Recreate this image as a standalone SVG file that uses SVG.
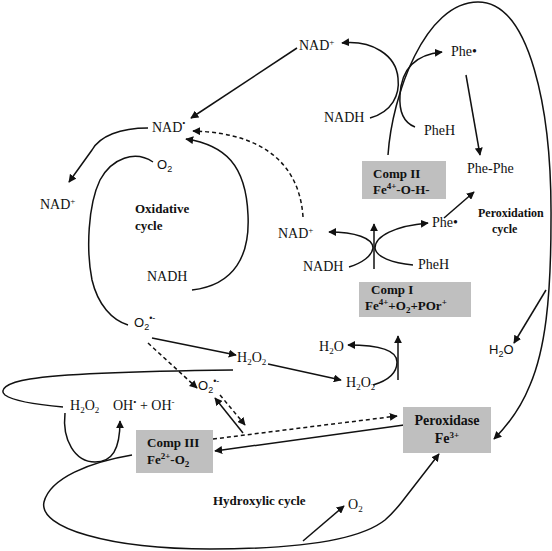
<svg xmlns="http://www.w3.org/2000/svg" width="552" height="551" viewBox="0 0 552 551">
<defs>
<marker id="ah" viewBox="0 0 10 10" refX="9" refY="5" markerWidth="8" markerHeight="8" markerUnits="userSpaceOnUse" orient="auto">
<path d="M0,0 L10,5 L0,10 z" fill="#111"/>
</marker>
</defs>
<style>
.t{font-family:"Liberation Serif","Times New Roman",serif;font-size:14px;fill:#111}
.a{font-family:"Liberation Sans",Arial,sans-serif;font-size:13px;fill:#111}
.b{font-family:"Liberation Serif","Times New Roman",serif;font-size:13px;font-weight:bold;fill:#111}
.bs{font-family:"Liberation Serif","Times New Roman",serif;font-size:12px;font-weight:bold;fill:#111}
.s{font-size:9px}
.box{fill:#bfbfbf}
.ln{fill:none;stroke:#111;stroke-width:1.5}
.ar{fill:none;stroke:#111;stroke-width:1.5;marker-end:url(#ah)}
.dr{fill:none;stroke:#111;stroke-width:1.5;stroke-dasharray:4,3;marker-end:url(#ah)}
</style>
<rect width="552" height="551" fill="#fff"/>
<g id="connectors">
<path class="ar" d="M297,48 L191,118"/>
<path class="ar" d="M148,128 C120,128 100,136 92,150 L69,182"/>
<path class="dr" d="M303,217 C300,170 270,133 193,131"/>
<path class="ar" d="M192,290 C235,285 250,255 248,215 C246,165 225,145 186,139"/>
<path class="ln" d="M153,162 C135,150 112,158 100,180 C88,205 86,250 92,280 C98,305 112,320 128,325"/>
<path class="ar" d="M152,338 L236,355"/>
<path class="ar" d="M268,364 L341,380"/>
<path class="dr" d="M148,343 L197,388"/>
<path class="ar" d="M243,433 L215,398"/>
<path class="dr" d="M220,395 L245,425"/>
<path class="dr" d="M213,439 L397,416"/>
<path class="ar" d="M404,425 L215,451"/>
<path class="ln" d="M233,370 C150,371 60,374 30,379 C5,383 -1,390 5,395 C15,402 40,405 63,407"/>
<path class="ar" d="M65,413 C62,440 75,462 95,462 C112,462 120,450 120,421"/>
<path class="ar" d="M132,455 C90,462 50,478 44,502 C38,528 110,549 210,549 C300,549 360,540 385,520 C393,513 397,508 401,503 L439,454"/>
<path class="ar" d="M303,541 L344,506"/>
<path class="ar" d="M349,267 C362,263 372,256 373,248 C373,238 355,232 329,232"/>
<path class="ar" d="M413,265 C392,263 376,257 375,248 C375,236 395,226 428,223"/>
<path class="ar" d="M374,269 L374,224"/>
<path class="ar" d="M444,218 L474,192"/>
<path class="ar" d="M398,380 L398,336"/>
<path class="ar" d="M373,385 C390,380 397,372 397,362 C397,350 380,345 348,345"/>
<path class="ar" d="M370,118 C392,112 400,95 398,78 C396,55 372,40 342,43"/>
<path class="ar" d="M415,127 C402,122 399,110 400,95 C401,75 410,55 442,52"/>
<path class="ar" d="M466,75 L480,155"/>
<path class="ar" d="M388,155 C392,95 425,2 478,2 C530,2 552,110 551,220 C551,300 545,350 530,385 C520,410 505,428 494,439"/>
<path class="ar" d="M546,290 L514,343"/>
</g>
<g id="comp2"><rect class="box" x="362" y="161" width="84" height="38"/>
<text class="b" x="373" y="178">Comp II</text>
<text class="b" x="373" y="194">Fe<tspan class="s" dy="-5">4+</tspan><tspan dy="5">-O-H-</tspan></text></g>
<g id="comp1"><rect class="box" x="359" y="282" width="112" height="35"/>
<text class="b" x="371" y="294">Comp I</text>
<text class="b" x="365" y="310">Fe<tspan class="s" dy="-5">4+</tspan><tspan dy="5">+O</tspan><tspan class="s" dy="3">2</tspan><tspan dy="-3">+POr</tspan><tspan class="s" dy="-5">+</tspan></text></g>
<g id="comp3"><rect class="box" x="136" y="430" width="77" height="43"/>
<text class="b" x="147" y="447">Comp III</text>
<text class="b" x="147" y="464">Fe<tspan class="s" dy="-5">2+</tspan><tspan dy="5">-O</tspan><tspan class="s" dy="3">2</tspan></text></g>
<g id="peroxidase"><rect class="box" x="403" y="407" width="88" height="46"/>
<text class="b" x="447" y="425" text-anchor="middle" style="font-size:14px">Peroxidase</text>
<text class="b" x="447" y="443" text-anchor="middle" style="font-size:14px">Fe<tspan class="s" dy="-5">3+</tspan></text></g>
<g id="labels">
<text class="t" x="299" y="50">NAD<tspan class="s" dy="-5">+</tspan></text>
<text class="t" x="152" y="132">NAD<tspan class="s" dy="-6">•</tspan></text>
<text class="t" x="40" y="209">NAD<tspan class="s" dy="-5">+</tspan></text>
<text class="a" x="157" y="169">O<tspan class="s" dy="3">2</tspan></text>
<text class="b" x="135" y="213">Oxidative</text>
<text class="b" x="135" y="230">cycle</text>
<text class="t" x="147" y="281">NADH</text>
<text class="a" x="134" y="327">O<tspan class="s" dy="3">2</tspan><tspan class="s" dy="-9">•-</tspan></text>
<text class="t" x="237" y="362">H<tspan class="s" dy="3">2</tspan><tspan dy="-3">O</tspan><tspan class="s" dy="3">2</tspan></text>
<text class="a" x="198" y="390">O<tspan class="s" dy="3">2</tspan><tspan class="s" dy="-9">•-</tspan></text>
<text class="t" x="70" y="410">H<tspan class="s" dy="3">2</tspan><tspan dy="-3">O</tspan><tspan class="s" dy="3">2</tspan></text>
<text class="t" x="113" y="410">OH<tspan class="s" dy="-5">•</tspan><tspan dy="5"> + OH</tspan><tspan class="s" dy="-5">-</tspan></text>
<text class="b" x="213" y="505">Hydroxylic cycle</text>
<text class="t" x="348" y="509">O<tspan class="s" dy="3">2</tspan></text>
<text class="t" x="346" y="387">H<tspan class="s" dy="3">2</tspan><tspan dy="-3">O</tspan><tspan class="s" dy="3">2</tspan></text>
<text class="t" x="319" y="351">H<tspan class="s" dy="3">2</tspan><tspan dy="-3">O</tspan></text>
<text class="t" x="278" y="238">NAD<tspan class="s" dy="-5">+</tspan></text>
<text class="t" x="303" y="271">NADH</text>
<text class="t" x="418" y="269">PheH</text>
<text class="t" x="432" y="227">Phe•</text>
<text class="bs" x="478" y="217">Peroxidation</text>
<text class="bs" x="492" y="233">cycle</text>
<text class="a" x="489" y="354">H<tspan class="s" dy="3">2</tspan><tspan dy="-3">O</tspan></text>
<text class="t" x="467" y="173">Phe-Phe</text>
<text class="t" x="424" y="135">PheH</text>
<text class="t" x="451" y="56">Phe•</text>
<text class="t" x="324" y="122">NADH</text>
</g>
</svg>
